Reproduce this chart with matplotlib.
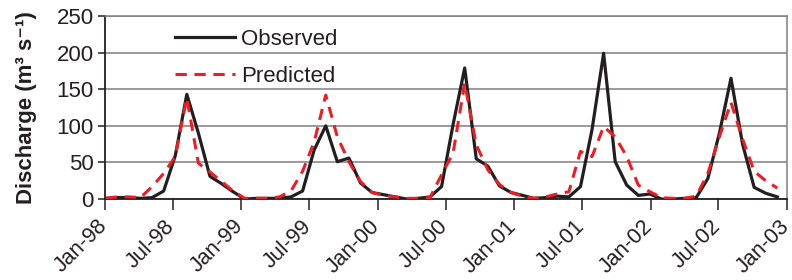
import pandas as pd
import matplotlib.pyplot as plt
from matplotlib.transforms import ScaledTranslation

plt.rcParams['font.family'] = ['Liberation Sans', 'DejaVu Sans']

# sampling dates (every 31 days) and monthly discharge, m3/s
start_date = '1998-01-03'
n_samples = 59

observed = [1, 2, 2, 1, 2, 11, 59, 143, 90, 31, 21, 10,
            0, 1, 1, 1, 3, 11, 67, 100, 51, 56, 22, 9,
            6, 3, 0, 1, 3, 17, 102, 179, 55, 45, 18, 9,
            5, 1, 2, 4, 3, 17, 95, 199, 51, 19, 5, 7,
            0, 0, 1, 2, 28, 90, 165, 75, 16, 8, 3]

predicted = [1, 3, 3, 2, 17, 35, 58, 138, 49, 37, 24, 11,
             1, 1, 1, 3, 11, 38, 78, 142, 85, 51, 24, 9,
             5, 3, 1, 1, 2, 33, 63, 158, 74, 40, 20, 9,
             4, 1, 3, 7, 10, 65, 58, 99, 85, 58, 19, 10,
             2, 1, 1, 4, 35, 85, 132, 82, 38, 25, 15]

tick_dates = ['1998-01-01', '1998-07-01', '1999-01-01', '1999-07-01',
              '2000-01-01', '2000-07-01', '2001-01-01', '2001-07-01',
              '2002-01-01', '2002-07-01', '2003-01-01']
tick_labels = ['Jan-98', 'Jul-98', 'Jan-99', 'Jul-99', 'Jan-00', 'Jul-00',
               'Jan-01', 'Jul-01', 'Jan-02', 'Jul-02', 'Jan-03']

dates = pd.date_range(start_date, periods=n_samples, freq='31D')
ticks = pd.to_datetime(tick_dates)

dark = '#231f20'
red = '#ee1d23'
grid_col = '#7f7f7f'

fig = plt.figure(figsize=(7.92, 2.8), dpi=100)
ax = fig.add_axes([0.1326, 0.289, 0.8611, 0.654])

ax.plot(dates, observed, color=dark, lw=2.3, label='Observed', zorder=3)
ax.plot(dates, predicted, color=red, lw=2.2, dashes=(3.7, 2.5),
        label='Predicted', zorder=4)

ax.set_xlim(ticks[0], ticks[-1])
ax.set_ylim(0, 250)
ax.set_yticks(range(0, 251, 50))
ax.set_xticks(ticks)

ax.grid(axis='y', color=grid_col, lw=1.1)
ax.set_axisbelow(True)

for side in ['left', 'bottom']:
    ax.spines[side].set_color(dark)
    ax.spines[side].set_linewidth(1.3)
for side in ['top', 'right']:
    ax.spines[side].set_color(grid_col)
    ax.spines[side].set_linewidth(1.1)

ax.tick_params(axis='x', direction='out', length=8, width=1.1,
               colors=dark, labelsize=15.5, pad=4)
ax.tick_params(axis='y', direction='out', length=5, width=1.1,
               colors=dark, labelsize=16, pad=3)

ax.set_xticklabels(tick_labels, rotation=45, ha='right',
                   rotation_mode='anchor')
# nudge the rotated labels a little left, so Jan-03 fits like in the source
shift = ScaledTranslation(-6 / 72, 0, fig.dpi_scale_trans)
for tick in ax.xaxis.get_major_ticks():
    tick.label1.set_transform(tick.label1.get_transform() + shift)

ax.set_ylabel('Discharge (m³ s⁻¹)', fontsize=16, fontweight='bold',
              color=dark, labelpad=14)

ax.legend(loc='upper left', bbox_to_anchor=(0.103, 0.93), frameon=False,
          fontsize=16, handlelength=2.7, handletextpad=0.25,
          labelspacing=0.72, borderpad=0, borderaxespad=0,
          labelcolor=dark)

fig.savefig('out.png', dpi=100)
